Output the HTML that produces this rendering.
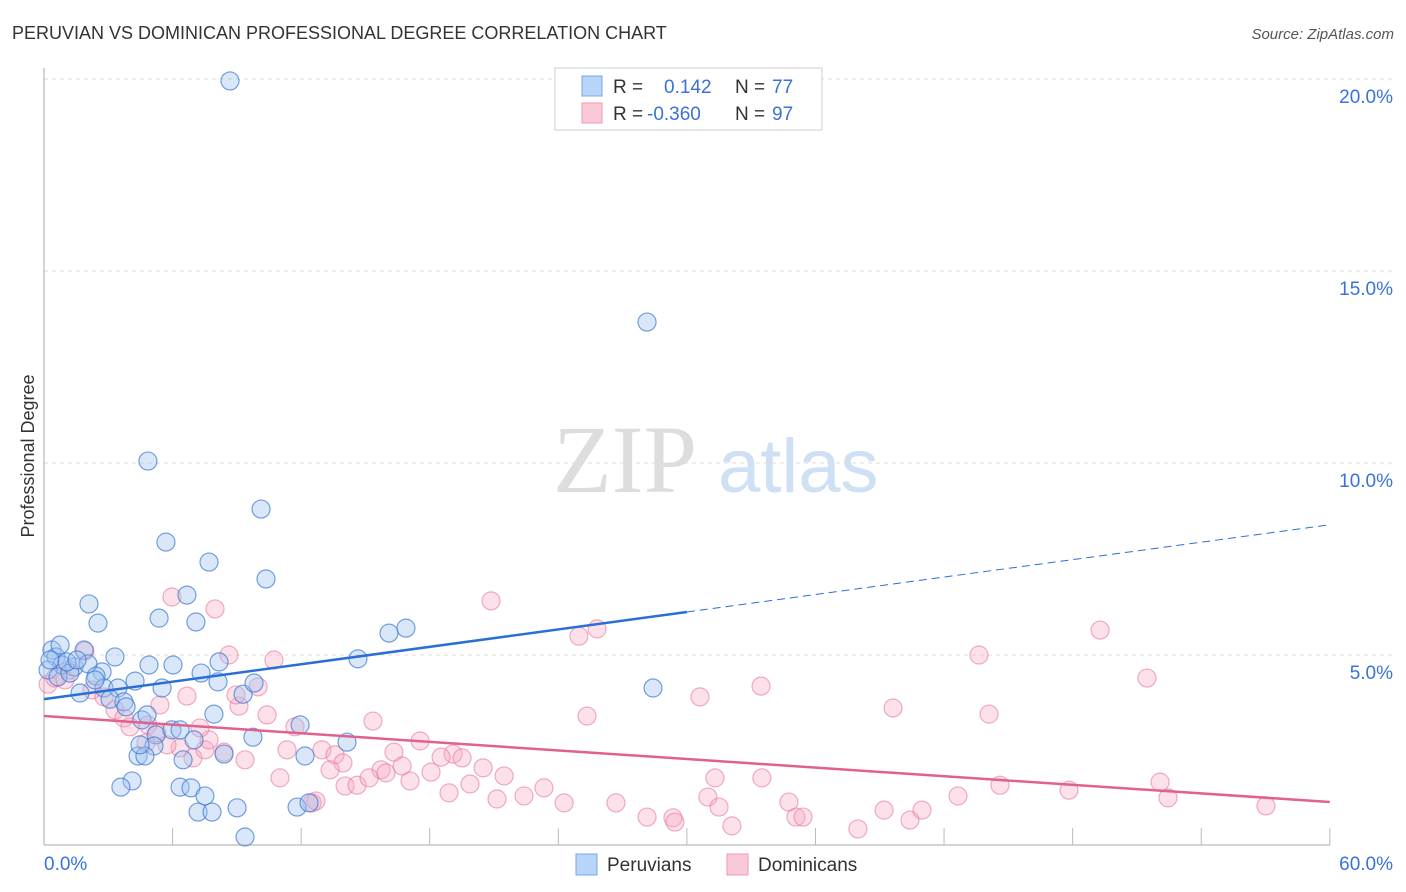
<!DOCTYPE html>
<html><head><meta charset="utf-8"><style>
body{margin:0;background:#fff;font-family:"Liberation Sans",sans-serif;}
svg{display:block}
</style></head><body>
<svg width="1406" height="892" xmlns="http://www.w3.org/2000/svg">
<text x="12" y="39" font-size="18" fill="#333">PERUVIAN VS DOMINICAN PROFESSIONAL DEGREE CORRELATION CHART</text>
<text x="1394" y="39" font-size="15" fill="#555" font-style="italic" text-anchor="end">Source: ZipAtlas.com</text>
<text x="34" y="456" font-size="18" fill="#333" text-anchor="middle" transform="rotate(-90 34 456)">Professional Degree</text>
<g>
<text x="553" y="492" font-size="96" font-family="Liberation Serif,serif" fill="#ddd">ZIP</text>
<text x="718" y="492" font-size="76" fill="#cfe0f5">atlas</text>
</g>
<g id="grid"></g>
<g id="axes"></g>
<g id="marks"></g>
<g id="lines"></g>
<g>
<rect x="555" y="68" width="267" height="62" fill="#fff" stroke="#ccc"/>
<rect x="582" y="76" width="20" height="20" fill="#b8d4f7" stroke="#7aa6e6"/>
<rect x="582" y="103" width="20" height="20" fill="#f9c9d8" stroke="#ee9ab5"/>
<text x="613" y="93" font-size="19" fill="#333">R = </text><text x="664" y="93" font-size="19" fill="#3a72d8">0.142</text>
<text x="735" y="93" font-size="19" fill="#333">N = </text><text x="772" y="93" font-size="19" fill="#3a72d8">77</text>
<text x="613" y="120" font-size="19" fill="#333">R = </text><text x="647" y="120" font-size="19" fill="#3a72d8">-0.360</text>
<text x="735" y="120" font-size="19" fill="#333">N = </text><text x="772" y="120" font-size="19" fill="#3a72d8">97</text>
</g>
<g>
<rect x="576" y="854" width="21" height="21" fill="#b8d4f7" stroke="#7aa6e6"/>
<text x="607" y="871" font-size="19" fill="#333">Peruvians</text>
<rect x="727" y="854" width="21" height="21" fill="#f9c9d8" stroke="#ee9ab5"/>
<text x="758" y="871" font-size="19" fill="#333">Dominicans</text>
</g>
</svg>
<script>
const blueX=[8.68,28.14,4.85,10.13,5.69,7.70,10.36,2.10,6.67,5.37,2.52,7.09,16.89,16.10,1.87,3.31,14.65,4.90,6.02,8.17,2.71,0.37,0.56,0.84,1.40,0.19,0.65,1.21,2.05,2.43,2.80,3.45,4.25,5.51,7.33,8.12,9.29,9.80,28.42,1.68,3.08,3.73,3.83,7.93,4.57,5.23,5.97,6.35,7.00,9.75,11.95,14.14,5.13,4.39,4.71,6.49,8.40,12.18,4.11,3.59,6.35,6.86,7.51,9.01,7.19,7.84,11.81,12.37,9.38,0.28,0.75,1.07,1.54,4.48,4.81,2.38];
const blueY=[19.95,13.67,10.05,8.80,7.94,7.42,6.98,6.33,6.56,5.96,5.83,5.86,5.70,5.57,5.13,4.95,4.90,4.74,4.74,4.82,4.56,5.13,4.95,4.74,4.69,4.61,4.43,4.53,4.77,4.45,4.14,4.14,4.32,4.14,4.53,4.30,3.98,4.27,4.14,4.01,3.85,3.78,3.65,3.46,3.31,2.92,3.05,3.05,2.79,2.86,3.18,2.73,2.63,2.37,2.37,2.27,2.42,2.37,1.72,1.56,1.56,1.54,1.33,1.02,0.91,0.91,1.04,1.15,0.26,4.87,5.26,4.82,4.87,2.66,3.44,4.35];
const pinkX=[5.97,7.98,20.86,24.96,25.81,49.28,43.63,51.47,10.73,8.63,9.99,33.46,30.61,6.67,9.10,0.19,0.51,0.98,1.21,1.91,2.24,2.80,3.31,3.73,4.01,4.85,5.27,6.35,4.76,5.74,6.95,7.51,7.70,8.40,10.41,8.96,25.34,39.62,44.10,15.35,11.71,12.97,13.58,17.55,19.09,19.51,16.33,15.73,16.71,18.53,20.49,21.47,13.95,13.35,14.05,14.61,15.17,15.96,17.08,18.06,18.90,19.88,21.14,22.40,23.33,24.27,26.69,28.14,29.35,29.44,30.98,31.31,31.50,33.50,34.76,35.09,35.42,32.10,37.98,39.20,40.41,40.97,42.65,44.61,47.83,52.08,52.45,57.02,11.01,12.51,12.69,11.34,9.38,7.28,5.41];
const pinkY=[6.51,6.20,6.41,5.49,5.68,5.65,5.00,4.40,4.87,5.00,4.17,4.19,3.91,3.93,3.67,4.24,4.40,4.35,4.61,5.10,4.09,3.91,3.57,3.36,3.13,3.18,2.97,2.58,2.71,2.66,2.32,2.53,2.79,2.47,3.44,3.96,3.41,3.62,3.46,3.28,3.13,2.53,2.40,2.76,2.42,2.32,2.47,2.01,2.11,2.34,2.06,1.85,2.19,2.01,1.59,1.61,1.80,1.93,1.72,1.95,1.41,1.64,1.25,1.33,1.54,1.15,1.15,0.78,0.76,0.65,1.30,1.80,1.04,1.80,1.17,0.78,0.78,0.55,0.47,0.96,0.70,0.96,1.33,1.61,1.48,1.69,1.28,1.07,1.80,1.15,1.20,2.53,2.27,3.10,3.70];
const yTicks=[5,10,15,20];
const yTickLabels=["5.0%","10.0%","15.0%","20.0%"];
const blueLine=[3.85,0.0757];
const pinkLine=[3.41,-0.0373];
const NS="http://www.w3.org/2000/svg";
const sx=v=>44+v*21.43, sy=v=>847-v*38.4;
function mk(tag,attrs,parent){const e=document.createElementNS(NS,tag);for(const k in attrs)e.setAttribute(k,attrs[k]);document.getElementById(parent).appendChild(e);return e;}
yTicks.forEach((t,i)=>{
  const g=mk('line',{x1:44,x2:1395,y1:sy(t),y2:sy(t),stroke:'#ddd','stroke-dasharray':'4,4'},'grid');
  
  
  const tx=mk('text',{x:1393,y:sy(t)+24,'font-size':19,fill:'#3a72d8','text-anchor':'end'},'grid');
  tx.textContent=yTickLabels[i];
  
  
});
const ax=mk('line',{x1:44,x2:44,y1:68,y2:845,stroke:'#aaa'},'axes');


const bx=mk('line',{x1:44,x2:1330,y1:845,y2:845,stroke:'#aaa'},'axes');


for(let i=1;i<=10;i++){const t=mk('line',{x1:sx(i*6),x2:sx(i*6),y1:828,y2:845,stroke:'#bbb'},'axes');

}
const l0=mk('text',{x:44,y:870,'font-size':19,fill:'#3a72d8'},'axes');l0.textContent='0.0%';


const l1=mk('text',{x:1393,y:870,'font-size':19,fill:'#3a72d8','text-anchor':'end'},'axes');l1.textContent='60.0%';


pinkX.forEach((x,i)=>{const c=mk('circle',{cx:sx(x),cy:sy(pinkY[i]),r:9,fill:'rgba(246,170,195,0.35)',stroke:'rgba(230,120,155,0.6)','stroke-width':1.2},'marks');

});
blueX.forEach((x,i)=>{const c=mk('circle',{cx:sx(x),cy:sy(blueY[i]),r:9,fill:'rgba(160,195,240,0.4)',stroke:'rgba(60,120,210,0.7)','stroke-width':1.2},'marks');

});
const f=(L,x)=>L[0]+L[1]*x;
const b1=mk('line',{x1:sx(0),y1:sy(f(blueLine,0)),x2:sx(30),y2:sy(f(blueLine,30)),stroke:'#2a6fd6','stroke-width':2.5},'lines');


const b2=mk('line',{x1:sx(30),y1:sy(f(blueLine,30)),x2:sx(60),y2:sy(f(blueLine,60)),stroke:'#2a6fd6','stroke-width':1,'stroke-dasharray':'8,5'},'lines');


const p1=mk('line',{x1:sx(0),y1:sy(f(pinkLine,0)),x2:sx(60),y2:sy(f(pinkLine,60)),stroke:'#e2608e','stroke-width':2.5},'lines');


</script>
</body></html>
